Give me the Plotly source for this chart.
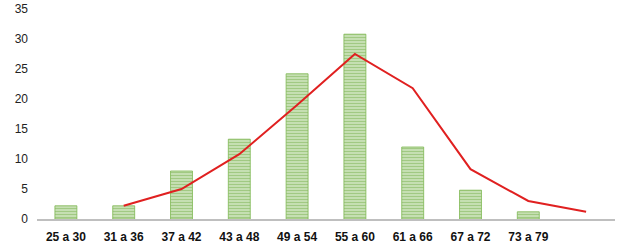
import plotly.graph_objects as go

categories = ["25 a 30", "31 a 36", "37 a 42", "43 a 48", "49 a 54", "55 a 60",
              "61 a 66", "67 a 72", "73 a 79", " "]
bar_values = [2.2, 2.2, 8.0, 13.3, 24.2, 30.8, 12.0, 4.8, 1.2, None]
line_categories = categories[1:]
line_values = [2.2, 5.0, 10.8, 19.0, 27.5, 21.8, 8.3, 3.0, 1.2]
y_ticks = [0, 5, 10, 15, 20, 25, 30, 35]

fig = go.Figure()
fig.add_trace(go.Bar(
    x=categories, y=bar_values,
    marker=dict(
        color="#D5E8C8",
        line=dict(color="#7DB852", width=0.8),
        pattern=dict(shape="-", fgcolor="#6EAA3E", bgcolor="#D5E8C8", size=3, solidity=0.55),
    ),
    showlegend=False,
))
fig.add_trace(go.Scatter(
    x=line_categories, y=line_values, mode="lines",
    line=dict(color="#E02020", width=2),
    showlegend=False,
))

fig.update_layout(
    width=627, height=251,
    margin=dict(l=37, r=12, t=9, b=32),
    paper_bgcolor="white", plot_bgcolor="white",
    bargap=0.62,
    font=dict(family="Liberation Sans", size=12, color="#222222"),
    xaxis=dict(
        type="category", categoryorder="array", categoryarray=categories,
        showgrid=False, showline=True, linecolor="#BFBFBF", linewidth=2,
        ticks="", automargin=False, ticklabelstandoff=6,
        tickfont=dict(size=12, color="#111111", weight="bold"),
    ),
    yaxis=dict(
        range=[0, 35], tickvals=y_ticks, showgrid=False, zeroline=False,
        showline=False, ticks="", automargin=False, ticklabelstandoff=8,
        tickfont=dict(size=12, color="#222222"),
    ),
)

fig.write_html("out.html")
